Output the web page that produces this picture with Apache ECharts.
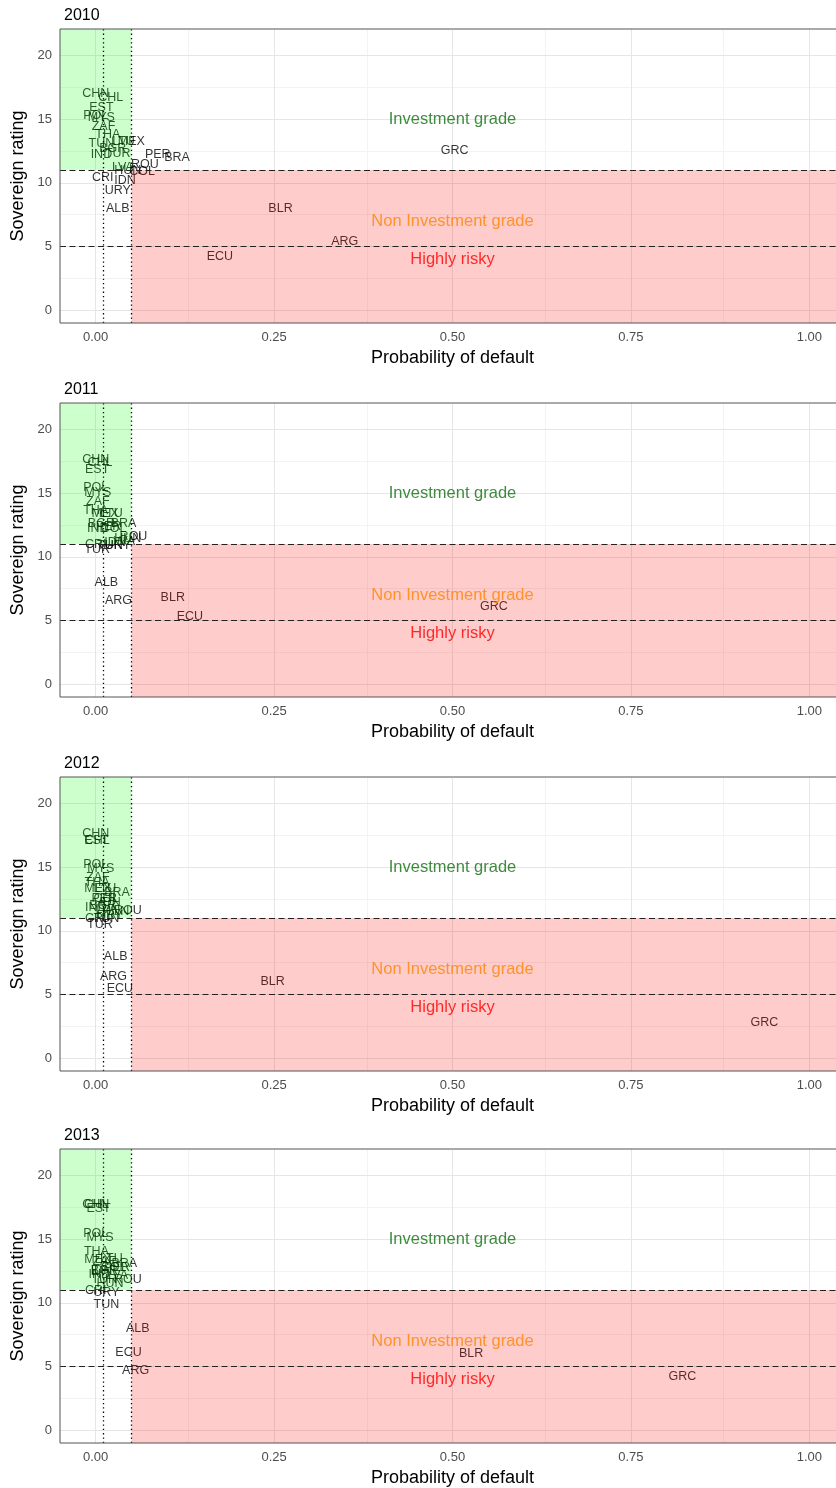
<!DOCTYPE html>
<html><head><meta charset="utf-8">
<script src="https://cdn.jsdelivr.net/npm/echarts@6/dist/echarts.min.js"></script>
<style>html,body{margin:0;padding:0;background:#fff;overflow:hidden;width:836px;height:1488px}#c{width:846px;height:1488px}</style>
</head><body><div id="c"></div>
<script>
const years = ['2010', '2011', '2012', '2013'];
const countries = ['ALB','ARG','BGR','BLR','BRA','CHL','CHN','COL','CRI','ECU','EST','GRC','HUN','IDN','IND','LTU','LVA','MEX','MYS','PER','POL','ROU','THA','TUN','TUR','URY','ZAF'];

const pd2010 = [0.031,0.349,0.024,0.259,0.114,0.021,0.000,0.065,0.010,0.174,0.008,0.503,0.045,0.041,0.008,0.039,0.038,0.050,0.008,0.087,0.000,0.069,0.017,0.008,0.031,0.031,0.011];
const rating2010 = [8.0,5.4,12.7,8.0,12.0,16.7,17.0,10.9,10.4,4.2,15.9,12.5,11.0,10.2,12.2,13.2,11.2,13.2,15.1,12.2,15.3,11.4,13.75,13.1,12.3,9.4,14.4];

const pd2011 = [0.015,0.032,0.008,0.108,0.039,0.006,0.000,0.025,0.000,0.132,0.002,0.558,0.045,0.027,0.003,0.022,0.040,0.013,0.003,0.018,0.000,0.053,0.000,0.020,0.002,0.031,0.003];
const rating2011 = [8.0,6.6,12.6,6.8,12.6,17.4,17.6,12.2,11.0,5.3,16.8,6.1,11.4,11.1,12.2,13.4,11.2,13.4,15.0,12.4,15.4,11.6,13.6,10.9,10.6,10.9,14.3];

const pd2012 = [0.028,0.025,0.010,0.248,0.030,0.002,0.000,0.015,0.000,0.034,0.001,0.937,0.028,0.020,0.000,0.013,0.015,0.003,0.007,0.012,0.000,0.045,0.002,0.015,0.006,0.020,0.003];
const rating2012 = [8.0,6.4,12.0,6.0,13.0,17.1,17.6,12.5,11.0,5.5,17.1,2.8,11.5,12.2,11.8,13.3,11.7,13.3,14.9,12.5,15.2,11.6,13.8,11.0,10.5,11.2,14.2];

const pd2013 = [0.059,0.056,0.012,0.526,0.040,0.001,0.000,0.025,0.000,0.046,0.004,0.822,0.020,0.008,0.005,0.022,0.030,0.003,0.006,0.030,0.000,0.045,0.001,0.015,0.012,0.015,0.012];
const rating2013 = [8.0,4.7,12.5,6.0,13.1,17.7,17.7,12.8,11.0,6.1,17.4,4.2,11.5,12.5,12.2,13.5,12.1,13.4,15.1,12.8,15.45,11.8,14.0,9.9,11.8,10.8,13.2];

const xTicks = [0, 0.25, 0.5, 0.75, 1];
const xMinorTicks = [0.125, 0.375, 0.625, 0.875];
const yTicks = [0, 5, 10, 15, 20];
const yMinorTicks = [2.5, 7.5, 12.5, 17.5];

const zoneLabels = ['Investment grade', 'Non Investment grade', 'Highly risky'];
const zoneRatings = [15, 7, 4];
const zonePd = 0.5;
const igThreshold = 11;
const riskyThreshold = 5;
const pdLines = [0.01, 0.05];

const X_MIN = -0.05, X_MAX = 1.05, Y_MIN = -0.98, Y_MAX = 22.05;

const pdByYear = [pd2010, pd2011, pd2012, pd2013];
const ratingByYear = [rating2010, rating2011, rating2012, rating2013];

const FONT = 'Liberation Sans, Arial, Helvetica, sans-serif';
const tops = [29, 403, 777, 1149];
const panelH = 294;
const zoneColors = ['#106e10', '#FFA500', '#FF0000'];

const option = {
  animation: false,
  backgroundColor: '#fff',
  textStyle: { fontFamily: FONT },
  title: [], grid: [], xAxis: [], yAxis: [], series: []
};

years.forEach((yr, i) => {
  option.title.push({ text: yr, left: 59, top: tops[i] - 26,
    textStyle: { fontSize: 16, fontWeight: 'normal', color: '#000', fontFamily: FONT } });
  option.grid.push({ left: 60, right: 1, top: tops[i], height: panelH, show: true,
    backgroundColor: 'transparent', borderColor: '#555', borderWidth: 1, z: 6 });
  option.xAxis.push({ type: 'value', gridIndex: i, min: X_MIN, max: X_MAX,
    name: 'Probability of default', nameLocation: 'middle', nameGap: 26,
    nameTextStyle: { fontSize: 18, color: '#000', fontFamily: FONT },
    axisLine: { show: false }, splitLine: { show: false },
    axisTick: { show: true, customValues: xTicks, length: 4, lineStyle: { color: '#333' } },
    axisLabel: { customValues: xTicks, margin: 8, fontSize: 13, color: '#4d4d4d',
      formatter: v => v.toFixed(2) } });
  option.yAxis.push({ type: 'value', gridIndex: i, min: Y_MIN, max: Y_MAX,
    name: 'Sovereign rating', nameLocation: 'middle', nameGap: 33, nameRotate: 90,
    nameTextStyle: { fontSize: 18, color: '#000', fontFamily: FONT },
    axisLine: { show: false }, splitLine: { show: false },
    axisTick: { show: true, customValues: yTicks, length: 4, lineStyle: { color: '#333' } },
    axisLabel: { customValues: yTicks, margin: 8, fontSize: 13, color: '#4d4d4d',
      formatter: v => String(v) } });

  const major = { color: '#e6e6e6', width: 1, type: 'solid' };
  const minor = { color: '#f3f3f3', width: 1, type: 'solid' };
  option.series.push({ type: 'scatter', xAxisIndex: i, yAxisIndex: i, data: [], silent: true,
    markLine: { z: 1, silent: true, symbol: 'none', animation: false, label: { show: false },
      data: [
        ...xMinorTicks.map(v => ({ xAxis: v, lineStyle: minor })),
        ...yMinorTicks.map(v => ({ yAxis: v, lineStyle: minor })),
        ...xTicks.map(v => ({ xAxis: v, lineStyle: major })),
        ...yTicks.map(v => ({ yAxis: v, lineStyle: major }))
      ] } });
  option.series.push({ type: 'scatter', xAxisIndex: i, yAxisIndex: i, z: 2, silent: true,
    symbolSize: 1, itemStyle: { color: 'rgba(0,0,0,0)' },
    label: { show: true, position: 'inside', formatter: '{b}', color: '#000', fontSize: 12.5, fontFamily: FONT },
    labelLayout: { hideOverlap: false },
    data: countries.map((c, k) => ({ name: c, value: [pdByYear[i][k], ratingByYear[i][k]] })) });
  option.series.push({ type: 'scatter', xAxisIndex: i, yAxisIndex: i, z: 2, silent: true,
    symbolSize: 1, itemStyle: { color: 'rgba(0,0,0,0)' },
    data: zoneLabels.map((t, k) => ({ name: t, value: [zonePd, zoneRatings[k]],
      label: { show: true, position: 'inside', formatter: '{b}', color: zoneColors[k], fontSize: 16.5, fontFamily: FONT } })) });
  option.series.push({ type: 'scatter', xAxisIndex: i, yAxisIndex: i, data: [], silent: true,
    markArea: { z: 3, silent: true, label: { show: false },
      data: [
        [{ xAxis: X_MIN, yAxis: igThreshold, itemStyle: { color: 'rgba(0,255,0,0.2)' } }, { xAxis: pdLines[1], yAxis: Y_MAX }],
        [{ xAxis: pdLines[1], yAxis: Y_MIN, itemStyle: { color: 'rgba(255,0,0,0.2)' } }, { xAxis: X_MAX, yAxis: igThreshold }]
      ] } });
  option.series.push({ type: 'scatter', xAxisIndex: i, yAxisIndex: i, data: [], silent: true,
    markLine: { z: 5, silent: true, symbol: 'none', animation: false, label: { show: false },
      data: [
        { yAxis: igThreshold, lineStyle: { color: '#222', width: 1.2, type: [6, 3.5] } },
        { yAxis: riskyThreshold, lineStyle: { color: '#222', width: 1.2, type: [6, 3.5] } },
        ...pdLines.map(v => ({ xAxis: v, lineStyle: { color: '#000', width: 1.3, type: [1.3, 3] } }))
      ] } });
});

const chart = echarts.init(document.getElementById('c'), null, { renderer: 'canvas' });
chart.setOption(option);
</script>
</body></html>
